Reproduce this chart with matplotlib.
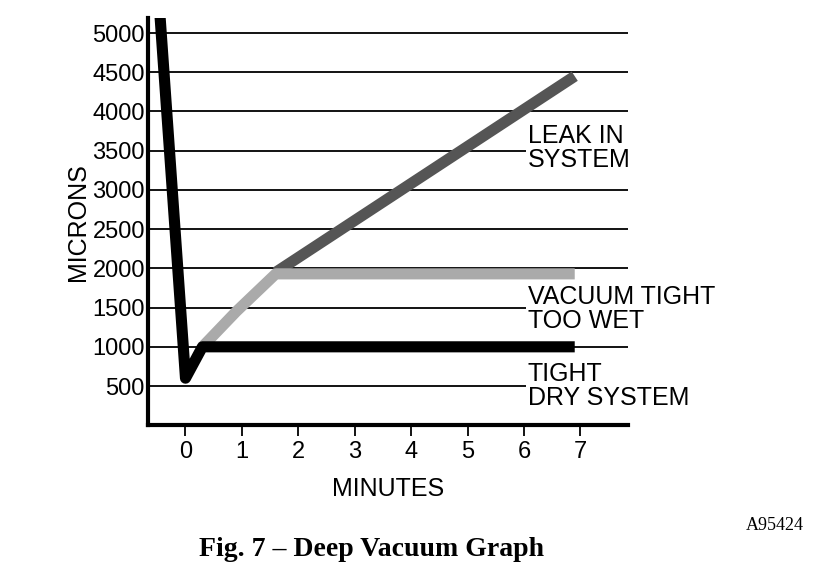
import matplotlib.pyplot as plt

plt.rcParams['font.family'] = ['Liberation Sans', 'DejaVu Sans']

# curves (minutes, microns)
dry_x = [-0.45, 0.0, 0.3, 6.9]
dry_y = [5200, 600, 1000, 1000]
wet_x = [0.3, 0.9, 1.6, 6.9]
wet_y = [1000, 1450, 1930, 1930]
leak_x = [1.6, 6.9]
leak_y = [1950, 4450]

y_ticks = [500, 1000, 1500, 2000, 2500, 3000, 3500, 4000, 4500, 5000]
x_ticks = [0, 1, 2, 3, 4, 5, 6, 7]

fig = plt.figure(figsize=(8.16, 5.67), dpi=100)
ax = fig.add_axes([0.181, 0.250, 0.589, 0.718])
ax.set_xlim(-0.67, 7.85)
ax.set_ylim(0, 5190)

for y in y_ticks:
    ax.axhline(y, color='black', lw=1.3, zorder=1)

ax.plot(leak_x, leak_y, color='#555555', lw=8, solid_capstyle='butt', zorder=3)
ax.plot(wet_x, wet_y, color='#aaaaaa', lw=8, solid_capstyle='butt', zorder=3)
ax.plot(dry_x, dry_y, color='black', lw=8, solid_capstyle='butt', solid_joinstyle='round', zorder=4)

fs = 18
box = dict(facecolor='white', edgecolor='none', pad=1)
ax.text(6.07, 3540, "LEAK IN\nSYSTEM", fontsize=fs, va='center', linespacing=1.0, bbox=box, zorder=5)
ax.text(6.07, 1480, "VACUUM TIGHT\nTOO WET", fontsize=fs, va='center', linespacing=1.0, bbox=box, zorder=5)
ax.text(6.07, 500, "TIGHT\nDRY SYSTEM", fontsize=fs, va='center', linespacing=1.0, bbox=box, zorder=5)

for s in ['top', 'right']:
    ax.spines[s].set_visible(False)
for s in ['left', 'bottom']:
    ax.spines[s].set_linewidth(3)

ax.set_xticks(x_ticks)
ax.set_yticks(y_ticks)
ax.tick_params(axis='x', length=8, width=1.3, labelsize=17)
ax.tick_params(axis='y', length=0, labelsize=17, pad=2)
ax.set_xlabel("MINUTES", fontsize=18, labelpad=10)
ax.set_ylabel("MICRONS", fontsize=18, labelpad=2)

fig.text(0.455, 0.02, "Fig. 7 \u2013 Deep Vacuum Graph", fontsize=20, fontweight='bold',
         family='Liberation Serif', ha='center')
fig.text(0.985, 0.065, "A95424", fontsize=13, family='Liberation Serif', ha='right')

fig.savefig("out.png", dpi=100)
